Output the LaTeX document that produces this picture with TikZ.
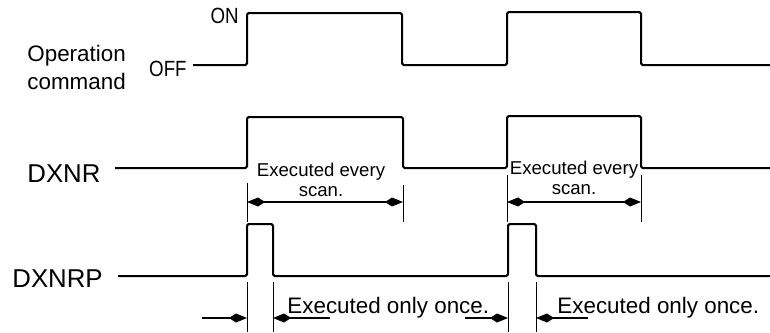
\documentclass[tikz,border=0pt]{standalone}
\usepackage{fontspec}
\setmainfont{Liberation Sans}
\newfontfamily\narrowsf[FakeStretch=0.85]{Liberation Sans}
\usetikzlibrary{arrows.meta}

\begin{document}
\begin{tikzpicture}[x=0.5pt,y=-0.5pt,>={Kite[length=9pt,width=4.5pt,inset=3.5pt]},wave/.style={line width=1pt,rounded corners=0.8pt},ext/.style={line width=0.5pt},dim/.style={line width=0.6pt},txt/.style={inner sep=0pt}]
\useasboundingbox (0,0) rectangle (770,332);
% signal names
\node[txt,anchor=north west,align=left,font=\fontsize{11.2}{14}\selectfont] (opname) at (27,45) {Operation\\command};
\node[txt,anchor=base west,font=\fontsize{12.9}{15}\selectfont] (dxnrname) at (27,182) {DXNR};
\node[txt,anchor=base west,font=\fontsize{12.9}{15}\selectfont] (dxnrpname) at (12,287) {DXNRP};
\node[txt,anchor=base east,font=\narrowsf\fontsize{11}{13}\selectfont] (on) at (239,23) {ON};
\node[txt,anchor=base east,font=\narrowsf\fontsize{11}{13}\selectfont] (off) at (187,76) {OFF};
% waveforms
\draw[wave] (193,65) -- (247,65) -- (247,13) -- (402,13) -- (402,65) -- (507,65) -- (507,12) -- (641,12) -- (641,65) -- (770,65);
\draw[wave] (115,168) -- (247,168) -- (247,117) -- (403,117) -- (403,168) -- (507,168) -- (507,116) -- (641,116) -- (641,168) -- (770,168);
\draw[wave] (118,276) -- (247,276) -- (247,224) -- (273,224) -- (273,276) -- (508,276) -- (508,224) -- (536,224) -- (536,276) -- (770,276);
% every scan
\coordinate (a1) at (247,202);
\coordinate (b1) at (403,202);
\coordinate (a2) at (507,202);
\coordinate (b2) at (641,202);
\draw[ext] (247,183) -- (247,222);
\draw[ext] (403,185) -- (403,222);
\draw[ext] (507,175) -- (507,222);
\draw[ext] (641,175) -- (641,222);
\draw[dim,<->] (a1) -- (b1);
\draw[dim,<->] (a2) -- (b2);
\node[txt,anchor=north,align=center,font=\fontsize{9.3}{10}\selectfont] (every1) at (321,163) {Executed every\\scan.};
\node[txt,anchor=north,align=center,font=\fontsize{9.3}{10}\selectfont] (every2) at (574,161) {Executed every\\scan.};
% only once
\coordinate (p1) at (247,318);
\coordinate (q1) at (273,318);
\coordinate (p2) at (508,318);
\coordinate (q2) at (536,318);
\coordinate (pl1) at (202,318);
\coordinate (qr1) at (330,318);
\coordinate (pl2) at (465,318);
\coordinate (qr2) at (588,318);
\draw[ext] (247,282) -- (247,332);
\draw[ext] (273,282) -- (273,332);
\draw[ext] (508,282) -- (508,332);
\draw[ext] (536,282) -- (536,332);
\draw[dim,->] (pl1) -- (p1);
\draw[dim,->] (qr1) -- (q1);
\draw[dim,->] (pl2) -- (p2);
\draw[dim,->] (qr2) -- (q2);
\node[txt,anchor=base west,font=\fontsize{11.2}{13}\selectfont] (once1) at (287,313) {Executed only once.};
\node[txt,anchor=base west,font=\fontsize{11.2}{13}\selectfont] (once2) at (557,313) {Executed only once.};
\end{tikzpicture}
\end{document}
